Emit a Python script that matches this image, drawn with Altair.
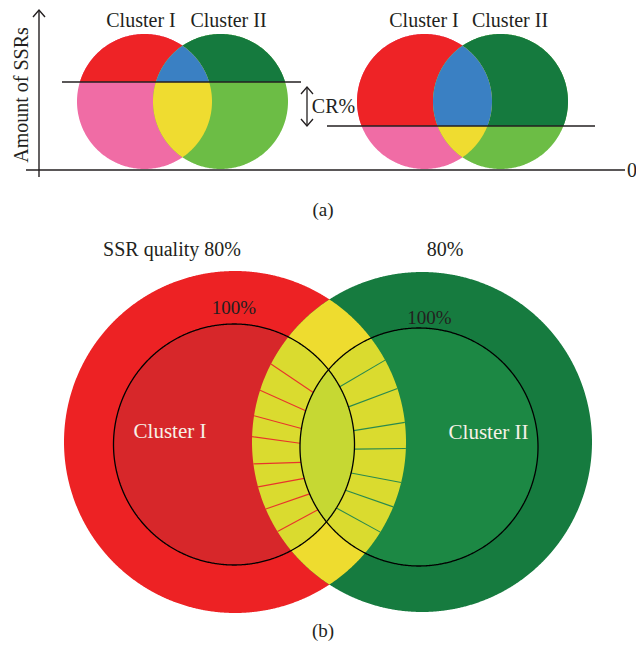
import math
import altair as alt

# ---------------- Panel (a): two Venn diagrams cut at different heights ----------------
venn_cluster1_x = [144.5, 424.5]      # centre x of "Cluster I" circles
venn_cluster2_x = [220.5, 500.5]      # centre x of "Cluster II" circles
venn_y = 101.5
venn_r = 67.5
cut_y = [82, 126]                      # quality cut-off lines
cut_x_start = [62, 327]
cut_x_end = [301, 595]
colors_a = {"above1": "#EE2326", "above2": "#157A3E", "above_both": "#3A80C3",
            "below1": "#F06CA5", "below2": "#6CBD45", "below_both": "#EFDC30"}

# ---------------- Panel (b): SSR quality circles ----------------
outer_x = [235, 422]
outer_y = [442, 442]
outer_r = [171, 170]
inner_x = [234, 419]
inner_y = [444.5, 447]
inner_r = [120.5, 119]
red_tick_angles = [27.3, 17.7, 8.9, 1.8, -7.4, -15.3, -23.2, -31.8]
green_tick_angles = [28.6, 18.2, 6.6, -2.2, -13.7, -22.3, -31.8]
colors_b = {"outer1": "#ED2224", "outer2": "#167B3F", "outer_both": "#EEDC2F",
            "inner1": "#D7272A", "inner2": "#1C8844", "ring": "#DADB2F",
            "inner_both": "#C6D833", "tick1": "#E8352B", "tick2": "#2A8A4E"}

INK = "#231F20"
texts = [
    {"t": "Cluster I", "x": 141, "y": 27, "s": 20, "c": INK, "a": 0},
    {"t": "Cluster II", "x": 228.5, "y": 27, "s": 20, "c": INK, "a": 0},
    {"t": "Cluster I", "x": 424, "y": 27, "s": 20, "c": INK, "a": 0},
    {"t": "Cluster II", "x": 510, "y": 27, "s": 20, "c": INK, "a": 0},
    {"t": "Amount of SSRs", "x": 27.5, "y": 95, "s": 20, "c": INK, "a": 270},
    {"t": "CR%", "x": 333.5, "y": 113, "s": 20, "c": INK, "a": 0},
    {"t": "0", "x": 632, "y": 177, "s": 20, "c": INK, "a": 0},
    {"t": "(a)", "x": 323, "y": 216, "s": 19, "c": INK, "a": 0},
    {"t": "SSR quality 80%", "x": 172, "y": 256, "s": 20, "c": INK, "a": 0},
    {"t": "80%", "x": 445, "y": 256, "s": 20, "c": INK, "a": 0},
    {"t": "100%", "x": 234, "y": 314, "s": 19, "c": INK, "a": 0},
    {"t": "100%", "x": 429.5, "y": 324, "s": 19, "c": INK, "a": 0},
    {"t": "Cluster I", "x": 170, "y": 438, "s": 21, "c": "#F6F1E7", "a": 0},
    {"t": "Cluster II", "x": 488.5, "y": 439, "s": 21, "c": "#F6F1E7", "a": 0},
    {"t": "(b)", "x": 323, "y": 637, "s": 19, "c": INK, "a": 0},
]


# ---------------- geometry helpers ----------------
def cc_int(c1, c2):
    (x1, y1, r1), (x2, y2, r2) = c1, c2
    d = math.hypot(x2 - x1, y2 - y1)
    if d == 0 or d > r1 + r2 or d < abs(r1 - r2):
        return []
    a = (r1 * r1 - r2 * r2 + d * d) / (2 * d)
    h = math.sqrt(max(r1 * r1 - a * a, 0))
    xm = x1 + a * (x2 - x1) / d
    ym = y1 + a * (y2 - y1) / d
    return [(xm + h * (y2 - y1) / d, ym - h * (x2 - x1) / d),
            (xm - h * (y2 - y1) / d, ym + h * (x2 - x1) / d)]


def cl_int(c, y0):
    x, y, r = c
    dy = y0 - y
    if abs(dy) > r:
        return []
    w = math.sqrt(r * r - dy * dy)
    return [(x - w, y0), (x + w, y0)]


def ok(p, con, tol=1e-6):
    if con[0] == "c":
        _, x, y, r = con
        return math.hypot(p[0] - x, p[1] - y) <= r + tol
    if con[0] == "above":
        return p[1] <= con[1] + tol
    return p[1] >= con[1] - tol


def circle_ring(x, y, r, step=0.8):
    n = max(180, int(2 * math.pi * r / step))
    return [(x + r * math.cos(2 * math.pi * k / n), y + r * math.sin(2 * math.pi * k / n)) for k in range(n)]


def region(cons):
    circles = [c[1:] for c in cons if c[0] == "c"]
    lines = [c[1] for c in cons if c[0] != "c"]
    cand = []
    for c in circles:
        cand += circle_ring(*c)
    for i in range(len(circles)):
        for j in range(i + 1, len(circles)):
            cand += cc_int(circles[i], circles[j])
        for y0 in lines:
            cand += cl_int(circles[i], y0)
    pts = [p for p in cand if all(ok(p, c) for c in cons)]
    mx = sum(p[0] for p in pts) / len(pts)
    my = sum(p[1] for p in pts) / len(pts)
    pts.sort(key=lambda p: math.atan2(p[1] - my, p[0] - mx))
    ring = [[round(p[0], 2), round(p[1], 2)] for p in pts]
    ring.append(ring[0])
    return ring


features = []


def add_poly(cons, fill):
    features.append({"type": "Feature",
                     "geometry": {"type": "Polygon", "coordinates": [region(cons)]},
                     "properties": {"fill": fill, "stroke": "none", "sw": 0}})


def add_line(pts, stroke, sw):
    features.append({"type": "Feature",
                     "geometry": {"type": "LineString", "coordinates": [[round(a, 2), round(b, 2)] for a, b in pts]},
                     "properties": {"fill": "none", "stroke": stroke, "sw": sw}})


# ---- panel (a) shapes
for i in range(2):
    L = ("c", venn_cluster1_x[i], venn_y, venn_r)
    R = ("c", venn_cluster2_x[i], venn_y, venn_r)
    up = ("above", cut_y[i])
    add_poly([L], colors_a["below1"])
    add_poly([R], colors_a["below2"])
    add_poly([L, up], colors_a["above1"])
    add_poly([R, up], colors_a["above2"])
    add_poly([L, R], colors_a["below_both"])
    add_poly([L, R, up], colors_a["above_both"])
    add_line([(cut_x_start[i], cut_y[i]), (cut_x_end[i], cut_y[i])], INK, 1.5)

# axes and arrows of panel (a)
add_line([(39, 177), (39, 10)], INK, 1.4)
add_line([(33, 17), (39, 10), (45, 17)], INK, 1.4)
add_line([(26, 170), (625, 170)], INK, 1.4)
add_line([(307, 87), (307, 126)], INK, 1.3)
add_line([(301, 94), (307, 87), (313, 94)], INK, 1.3)
add_line([(301, 119), (307, 126), (313, 119)], INK, 1.3)

# ---- panel (b) shapes
A = ("c", outer_x[0], outer_y[0], outer_r[0])
B = ("c", outer_x[1], outer_y[1], outer_r[1])
a = ("c", inner_x[0], inner_y[0], inner_r[0])
b = ("c", inner_x[1], inner_y[1], inner_r[1])
add_poly([A], colors_b["outer1"])
add_poly([B], colors_b["outer2"])
add_poly([A, B], colors_b["outer_both"])
add_poly([a], colors_b["inner1"])
add_poly([b], colors_b["inner2"])
add_poly([a, A, B], colors_b["ring"])
add_poly([b, A, B], colors_b["ring"])
add_poly([a, b], colors_b["inner_both"])

# radial ticks: red ticks between the green outer and inner circles, green ticks between the red ones
for ang in red_tick_angles:
    t = math.radians(ang)
    dx, dy = -math.cos(t), -math.sin(t)
    add_line([(outer_x[1] + outer_r[1] * dx, outer_y[1] + outer_r[1] * dy),
              (inner_x[1] + inner_r[1] * dx, inner_y[1] + inner_r[1] * dy)], colors_b["tick1"], 1.1)
for ang in green_tick_angles:
    t = math.radians(ang)
    dx, dy = math.cos(t), -math.sin(t)
    add_line([(outer_x[0] + outer_r[0] * dx, outer_y[0] + outer_r[0] * dy),
              (inner_x[0] + inner_r[0] * dx, inner_y[0] + inner_r[0] * dy)], colors_b["tick2"], 1.1)

# inner circle outlines
for i in range(2):
    ring = circle_ring(inner_x[i], inner_y[i], inner_r[i], step=1.0)
    ring.append(ring[0])
    add_line(ring, "#000000", 1.3)

shapes = alt.Chart(alt.Data(values=features)).mark_geoshape(strokeJoin="miter").encode(
    fill=alt.Fill("properties.fill:N", scale=None),
    stroke=alt.Stroke("properties.stroke:N", scale=None),
    strokeWidth=alt.StrokeWidth("properties.sw:Q", scale=None),
).project(type="identity", scale=1, translate=[-8, -8])

labels = alt.Chart(alt.Data(values=texts)).mark_text(
    font="Liberation Serif", align="center", baseline="alphabetic"
).encode(
    longitude="x:Q",
    latitude="y:Q",
    text="t:N",
    size=alt.Size("s:Q", scale=None),
    color=alt.Color("c:N", scale=None),
    angle=alt.Angle("a:Q", scale=None),
).project(type="identity", scale=1, translate=[-8, -8])

chart = alt.layer(shapes, labels).properties(
    width=628, height=636, padding=0,
    autosize=alt.AutoSizeParams(type="none"),
    background="white",
).configure_view(stroke=None)

chart.save("out.html", embed_options={"renderer": "svg", "actions": False})
